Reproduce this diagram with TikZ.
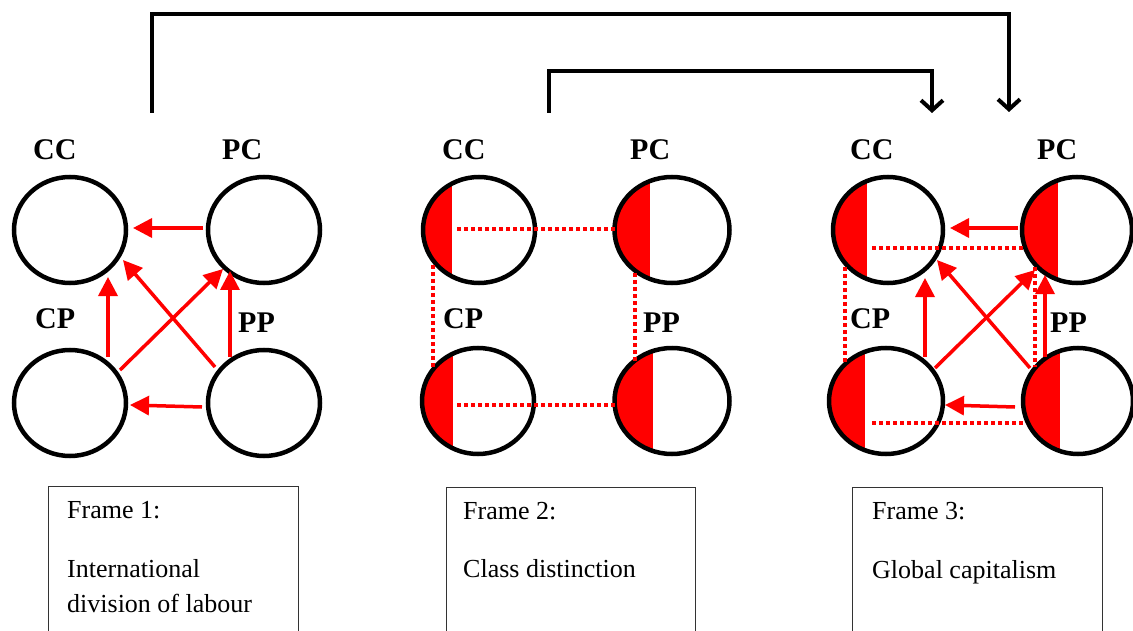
\documentclass[tikz,border=0pt]{standalone}
\usepackage{fontspec}
\setmainfont{Liberation Serif}
\usetikzlibrary{shapes.geometric,arrows.meta,calc}
\begin{document}
\begin{tikzpicture}[x=1pt,y=-1pt,
  circ/.style={ellipse, draw=black, line width=4.5pt, minimum width=112pt, minimum height=106pt, inner sep=0pt},
  half/.style={path picture={\fill[red] ([xshift=-20pt]path picture bounding box.north west) rectangle ([xshift=-#1pt,yshift=-20pt]path picture bounding box.south);}},
  lbl/.style={anchor=base west, inner sep=0pt, font=\fontsize{30}{30}\selectfont\bfseries},
  flow/.style={red, line width=3.5pt, -{Triangle[length=19pt,width=19pt]}},
  link/.style={red, line width=3.5pt, dash pattern=on 4pt off 3pt},
  jump/.style={black, line width=4pt, -{Straight Barb[length=10pt,width=22pt]}},
  frame/.style={draw=black!80, line width=1.2pt, anchor=north west, inner sep=0pt},
  txt/.style={anchor=base west, inner sep=0pt, font=\fontsize{26}{30}\selectfont}]
\useasboundingbox (0,0) rectangle (1133,631);

% ---- Frame 1: international division of labour ----
\node[circ] (cc1) at (70,230) {};
\node[circ] (pc1) at (264,230) {};
\node[circ] (cp1) at (70,403) {};
\node[circ] (pp1) at (264,403) {};
\node[lbl] (cc1l) at (33,160) {CC};
\node[lbl] (pc1l) at (222,160) {PC};
\node[lbl] (cp1l) at (35,328) {CP};
\node[lbl] (pp1l) at (238,332) {PP};
\draw[flow] ([shift={(-61,-2)}]pc1.center) -- ([shift={(63,-2)}]cc1.center);
\draw[flow] ([shift={(-62,4)}]pp1.center) -- ([shift={(60,2)}]cp1.center);
\draw[flow] ([shift={(38,-46)}]cp1.center) -- ([shift={(38,47)}]cc1.center);
\draw[flow] ([shift={(-34,-46)}]pp1.center) -- ([shift={(-34,41)}]pc1.center);
\draw[flow] ([shift={(50,-33)}]cp1.center) -- ([shift={(-41,39)}]pc1.center);
\draw[flow] ([shift={(-49,-36)}]pp1.center) -- ([shift={(53,30)}]cc1.center);

% ---- Frame 2: class distinction ----
\node[circ, half=27] (cc2) at (479,230) {};
\node[circ, half=22, minimum width=115pt] (pc2) at (672,230) {};
\node[circ, half=25] (cp2) at (478,401) {};
\node[circ, half=19, minimum width=115pt] (pp2) at (672,401) {};
\node[lbl] (cc2l) at (442,160) {CC};
\node[lbl] (pc2l) at (630,160) {PC};
\node[lbl] (cp2l) at (443,328) {CP};
\node[lbl] (pp2l) at (643,332) {PP};
\draw[link] ([shift={(-22,-1)}]cc2.center) -- ([shift={(-57,-1)}]pc2.center);
\draw[link] ([shift={(-21,4)}]cp2.center) -- ([shift={(-57,4)}]pp2.center);
\draw[link] ([shift={(-46,35)}]cc2.center) -- ([shift={(-45,-34)}]cp2.center);
\draw[link] ([shift={(-37,43)}]pc2.center) -- ([shift={(-37,-38)}]pp2.center);

% ---- Frame 3: global capitalism ----
\node[circ, half=21, minimum width=110pt] (cc3) at (888,230) {};
\node[circ, half=19, minimum width=110pt] (pc3) at (1077,230) {};
\node[circ, half=21, minimum width=114pt] (cp3) at (886,401) {};
\node[circ, half=18, minimum width=110pt] (pp3) at (1078,401) {};
\node[lbl] (cc3l) at (850,160) {CC};
\node[lbl] (pc3l) at (1037,160) {PC};
\node[lbl] (cp3l) at (850,328) {CP};
\node[lbl] (pp3l) at (1050,332) {PP};
\draw[link] ([shift={(-16,18)}]cc3.center) -- ([shift={(-54,18)}]pc3.center);
\draw[link] ([shift={(-14,22)}]cp3.center) -- ([shift={(-55,22)}]pp3.center);
\draw[link] ([shift={(-43,37)}]cc3.center) -- ([shift={(-41,-38)}]cp3.center);
\draw[link] ([shift={(-42,37)}]pc3.center) -- ([shift={(-43,-34)}]pp3.center);
\draw[flow] ([shift={(-59,-2)}]pc3.center) -- ([shift={(62,-2)}]cc3.center);
\draw[flow] ([shift={(-63,6)}]pp3.center) -- ([shift={(59,4)}]cp3.center);
\draw[flow] ([shift={(39,-44)}]cp3.center) -- ([shift={(37,48)}]cc3.center);
\draw[flow] ([shift={(-33,-44)}]pp3.center) -- ([shift={(-32,45)}]pc3.center);
\draw[flow] ([shift={(49,-33)}]cp3.center) -- ([shift={(-42,40)}]pc3.center);
\draw[flow] ([shift={(-48,-33)}]pp3.center) -- ([shift={(49,30)}]cc3.center);

% ---- transitions between frames ----
\coordinate (s1) at (152,113);
\coordinate (e1) at (1009,112);
\coordinate (s2) at (549,113);
\coordinate (e2) at (932,113);
\draw[jump] (s1) -- ([yshift=99pt]s1) -| (e1);
\draw[jump] (s2) -- ([yshift=42pt]s2) -| (e2);

% ---- captions ----
\node[frame, minimum width=250pt, minimum height=160pt] (box1) at (48,486) {};
\node[frame, minimum width=249pt, minimum height=160pt] (box2) at (446,487) {};
\node[frame, minimum width=250pt, minimum height=160pt] (box3) at (852,487) {};
\node[txt] (f1a) at (67,518) {Frame 1:};
\node[txt] (f1b) at (67,577) {International};
\node[txt] (f1c) at (67,612) {division of labour};
\node[txt] (f2a) at (463,519) {Frame 2:};
\node[txt] (f2b) at (463,577) {Class distinction};
\node[txt] (f3a) at (872,519) {Frame 3:};
\node[txt] (f3b) at (872,578) {Global capitalism};
\end{tikzpicture}
\end{document}
